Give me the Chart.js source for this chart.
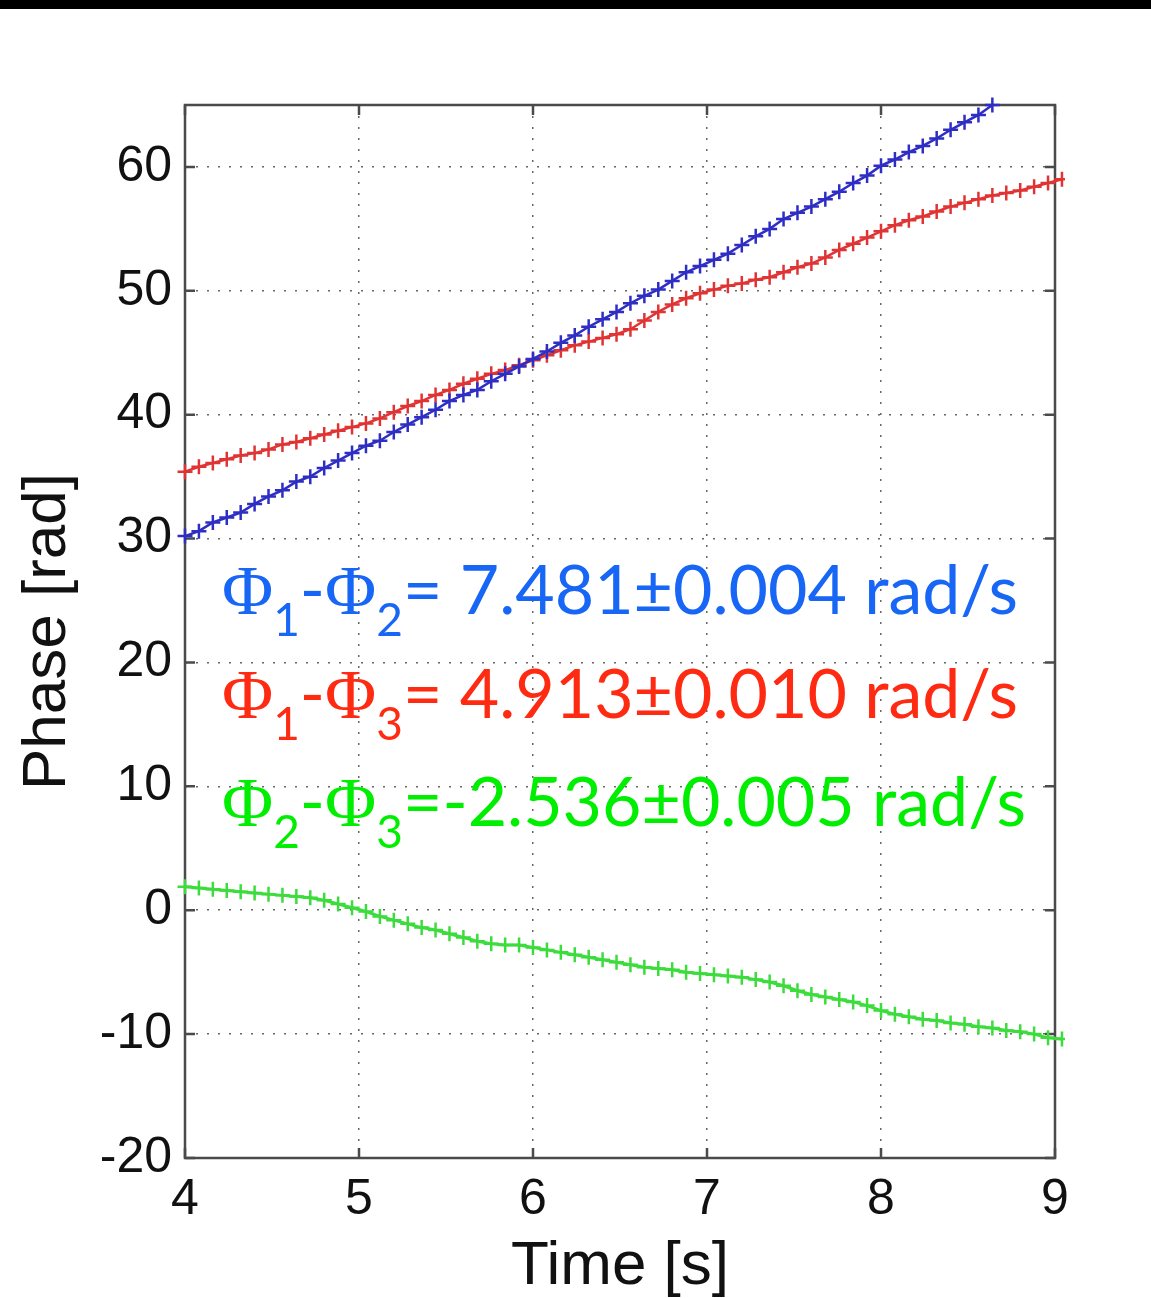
<!DOCTYPE html>
<html>
<head>
<meta charset="utf-8">
<title>Phase differences</title>
<script src="https://cdn.jsdelivr.net/npm/chart.js@4.4.1/dist/chart.umd.min.js"></script>
<style>
  html, body { margin: 0; padding: 0; background: #fff; }
  .topbar { height: 9px; background: #000; }
  canvas { display: block; }
</style>
</head>
<body>
<div class="topbar"></div>
<canvas id="phaseChart" width="1151" height="1289"></canvas>
<script>
// sample times [s]
const times = [
  4.00, 4.08, 4.16, 4.24, 4.32, 4.40, 4.48, 4.56, 4.64, 4.72, 4.80, 4.88, 4.96,
  5.04, 5.12, 5.20, 5.28, 5.36, 5.44, 5.52, 5.60, 5.68, 5.76, 5.84, 5.92,
  6.00, 6.08, 6.16, 6.24, 6.32, 6.40, 6.48, 6.56, 6.64, 6.72, 6.80, 6.88, 6.96,
  7.04, 7.12, 7.20, 7.28, 7.36, 7.44, 7.52, 7.60, 7.68, 7.76, 7.84, 7.92,
  8.00, 8.08, 8.16, 8.24, 8.32, 8.40, 8.48, 8.56, 8.64, 8.72, 8.80, 8.88, 8.96,
  9.04
];

// phi1 - phi2 [rad] (runs off the top after 8.64 s)
const phase12 = [
  30.2, 30.6, 31.3, 31.7, 32.1, 32.8, 33.4, 33.9, 34.6, 35.0, 35.7, 36.3, 36.9,
  37.5, 37.9, 38.6, 39.2, 39.8, 40.4, 41.1, 41.6, 42.0, 42.7, 43.3, 43.9,
  44.5, 45.1, 45.8, 46.4, 47.1, 47.7, 48.3, 49.0, 49.6, 50.1, 50.8, 51.5, 52.0,
  52.5, 53.0, 53.7, 54.4, 55.0, 55.8, 56.3, 56.8, 57.4, 58.0, 58.7, 59.3,
  60.1, 60.6, 61.2, 61.7, 62.3, 63.0, 63.6, 64.2, 65.0, null, null, null, null,
  null
];

// phi1 - phi3 [rad]
const phase13 = [
  35.4, 35.8, 36.1, 36.4, 36.7, 36.9, 37.2, 37.6, 37.8, 38.1, 38.4, 38.7, 39.0,
  39.3, 39.7, 40.2, 40.7, 41.1, 41.6, 42.0, 42.5, 42.9, 43.3, 43.6, 44.0,
  44.4, 44.8, 45.2, 45.6, 45.9, 46.2, 46.5, 46.9, 47.6, 48.3, 48.9, 49.4, 49.8,
  50.1, 50.4, 50.6, 50.9, 51.1, 51.5, 51.9, 52.2, 52.7, 53.3, 53.8, 54.3,
  54.8, 55.3, 55.7, 56.0, 56.4, 56.8, 57.1, 57.4, 57.7, 57.9, 58.1, 58.4, 58.7,
  59.0
];

// phi2 - phi3 [rad]
const phase23 = [
  1.9, 1.8, 1.7, 1.6, 1.5, 1.4, 1.3, 1.2, 1.1, 1.0, 0.8, 0.5, 0.2,
  -0.1, -0.5, -0.8, -1.1, -1.4, -1.6, -1.9, -2.2, -2.5, -2.7, -2.8, -2.8,
  -3.0, -3.2, -3.4, -3.6, -3.8, -4.0, -4.2, -4.4, -4.6, -4.7, -4.8, -5.0, -5.1,
  -5.2, -5.3, -5.4, -5.6, -5.8, -6.1, -6.5, -6.8, -7.0, -7.2, -7.4, -7.7,
  -8.1, -8.4, -8.6, -8.8, -8.9, -9.1, -9.2, -9.4, -9.5, -9.7, -9.8, -10.0, -10.3,
  -10.4
];

const xTickValues = [4, 5, 6, 7, 8, 9];
const yTickValues = [-20, -10, 0, 10, 20, 30, 40, 50, 60];

// fitted slopes written on the plot
const rateIndices = [["1", "2"], ["1", "3"], ["2", "3"]];
const rateValues = ["= 7.481\u00b10.004", "= 4.913\u00b10.010", "=-2.536\u00b10.005"];
const rateUnit = " rad/s";

const lineColors = ["#2e2ec4", "#e03434", "#3cdc3c"];
const textColors = ["#1766f5", "#ff2a12", "#00ee00"];

const MAIN_FONT = "68px Lato";
const PHI_FONT = "70px 'Liberation Serif'";
const SUB_FONT = "46px Lato";

function toPoints(values) {
  return times.map((t, i) => ({ x: t, y: values[i] }));
}

function series(values, color, width) {
  return {
    data: toPoints(values),
    borderColor: color,
    borderWidth: width,
    pointStyle: "cross",
    pointRadius: 7.5,
    pointBorderWidth: 2.5,
    pointBorderColor: color,
    pointBackgroundColor: color,
    clip: 10,
    spanGaps: false,
  };
}

function drawRate(ctx, x, baseline, idx, value, color) {
  ctx.fillStyle = color;
  const put = (s, font, dy) => {
    ctx.font = font;
    ctx.fillText(s, x, baseline + dy);
    x += ctx.measureText(s).width;
  };
  put("\u03a6", PHI_FONT, 0);
  put(idx[0], SUB_FONT, 22);
  put("-", MAIN_FONT, 0);
  put("\u03a6", PHI_FONT, 0);
  put(idx[1], SUB_FONT, 22);
  put(value + rateUnit, MAIN_FONT, 0);
}

const frameAndLabels = {
  id: "frameAndLabels",
  beforeDatasetsDraw(chart) {
    const { ctx, chartArea: a, scales: { x, y } } = chart;
    ctx.save();
    ctx.strokeStyle = "#4a4a4a";
    ctx.lineWidth = 2.5;
    ctx.strokeRect(a.left, a.top, a.right - a.left, a.bottom - a.top);

    // MATLAB-style inward ticks on all four sides
    ctx.beginPath();
    xTickValues.forEach((v) => {
      const px = x.getPixelForValue(v);
      ctx.moveTo(px, a.bottom); ctx.lineTo(px, a.bottom - 10);
      ctx.moveTo(px, a.top); ctx.lineTo(px, a.top + 10);
    });
    yTickValues.forEach((v) => {
      const py = y.getPixelForValue(v);
      ctx.moveTo(a.left, py); ctx.lineTo(a.left + 10, py);
      ctx.moveTo(a.right, py); ctx.lineTo(a.right - 10, py);
    });
    ctx.stroke();
    ctx.restore();
  },
  afterDraw(chart) {
    const ctx = chart.ctx;
    ctx.save();
    ctx.textAlign = "left";
    ctx.textBaseline = "alphabetic";
    const baselines = [605, 709, 817];
    rateValues.forEach((v, i) => {
      drawRate(ctx, 222, baselines[i], rateIndices[i], v, textColors[i]);
    });
    ctx.restore();
  },
};

new Chart(document.getElementById("phaseChart"), {
  type: "line",
  data: {
    datasets: [
      series(phase12, lineColors[0], 2.5),
      series(phase13, lineColors[1], 2.5),
      series(phase23, lineColors[2], 3),
    ],
  },
  options: {
    responsive: false,
    animation: false,
    layout: { padding: { top: 96, right: 96, left: 0, bottom: 0 } },
    plugins: { legend: { display: false }, tooltip: { enabled: false } },
    scales: {
      x: {
        type: "linear",
        min: 4,
        max: 9,
        afterBuildTicks: (s) => { s.ticks = xTickValues.map((v) => ({ value: v })); },
        afterFit: (s) => { s.height = 140; },
        grid: { color: "#666", lineWidth: 1.5, drawTicks: false },
        border: { display: false, dash: [2, 9] },
        ticks: {
          padding: 12,
          color: "#111",
          maxRotation: 0,
          font: { family: "Liberation Sans", size: 50 },
        },
        title: {
          display: true,
          text: "Time [s]",
          color: "#111",
          font: { family: "Liberation Sans", size: 62, lineHeight: 1 },
          padding: { top: 0, bottom: 0 },
        },
      },
      y: {
        min: -20,
        max: 65,
        afterBuildTicks: (s) => { s.ticks = yTickValues.map((v) => ({ value: v })); },
        afterFit: (s) => { s.width = 185; },
        grid: { color: "#666", lineWidth: 1.5, drawTicks: false },
        border: { display: false, dash: [2, 9] },
        ticks: {
          padding: 13,
          color: "#111",
          font: { family: "Liberation Sans", size: 50 },
        },
        title: {
          display: true,
          text: "Phase [rad]",
          color: "#111",
          font: { family: "Liberation Sans", size: 62, lineHeight: 1 },
          padding: { top: 17, bottom: 0 },
        },
      },
    },
  },
  plugins: [frameAndLabels],
});
</script>
</body>
</html>
